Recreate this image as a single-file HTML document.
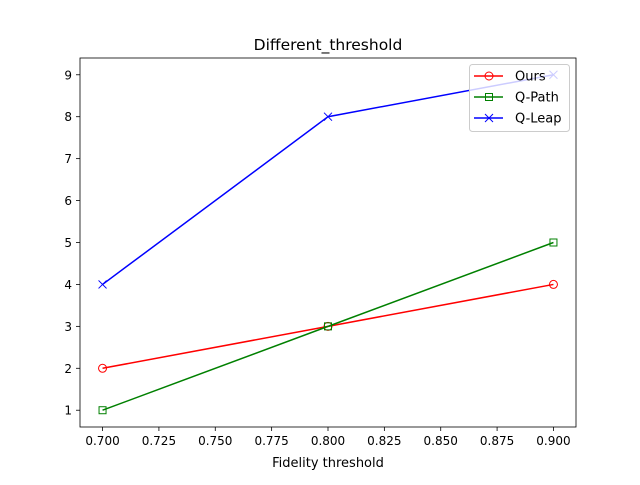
<!DOCTYPE html>
<html><head><meta charset="utf-8"><style>body{margin:0;background:#fff}svg{font-family:"DejaVu Sans","Liberation Sans",sans-serif}</style></head>
<body>
<svg id="chart" width="640" height="480" xmlns="http://www.w3.org/2000/svg"></svg>
<script>
const xValues = [0.7, 0.8, 0.9];
const oursValues = [2, 3, 4];
const qpathValues = [1, 3, 5];
const qleapValues = [4, 8, 9];
const xTicks = [0.7, 0.725, 0.75, 0.775, 0.8, 0.825, 0.85, 0.875, 0.9];
const xTickLabels = ["0.700","0.725","0.750","0.775","0.800","0.825","0.850","0.875","0.900"];
const yTicks = [1,2,3,4,5,6,7,8,9];
const seriesNames = ["Ours","Q-Path","Q-Leap"];

const L=80,R=576,T=58,B=427, x0=0.69,x1=0.91,y0=0.6,y1=9.4;
const sx=v=>L+(v-x0)/(x1-x0)*(R-L);
const sy=v=>B-(v-y0)/(y1-y0)*(B-T);
const svg=document.getElementById('chart');
const NS='http://www.w3.org/2000/svg';
function mk(tag,attrs,parent){const e=document.createElementNS(NS,tag);for(const k in attrs)e.setAttribute(k,attrs[k]);(parent||svg).appendChild(e);return e;}

const title=mk('text',{x:328,y:50,'text-anchor':'middle','font-size':15.5});title.textContent='Different_threshold';



const xg=mk('g',{});


xTicks.forEach((t,i)=>{const x=sx(t);mk('line',{x1:x,x2:x,y1:B,y2:B+4,stroke:'#000','stroke-width':0.8},xg);
const tx=mk('text',{x:x,y:B+18,'text-anchor':'middle','font-size':12},xg);tx.textContent=xTickLabels[i];

});
const xt=mk('text',{x:328,y:467,'text-anchor':'middle','font-size':13});xt.textContent='Fidelity threshold';



const yg=mk('g',{});


yTicks.forEach(t=>{const y=sy(t);mk('line',{x1:L-4,x2:L,y1:y,y2:y,stroke:'#000','stroke-width':0.8},yg);
const tx=mk('text',{x:L-8,y:y+4.5,'text-anchor':'end','font-size':12},yg);tx.textContent=t;

});

const colors=['#ff0000','#008000','#0000ff'];
const data=[oursValues,qpathValues,qleapValues];
const markers=['o','s','x'];
function marker(m,x,y,c,g){
 if(m==='o')mk('circle',{cx:x,cy:y,r:4,fill:'none',stroke:c,'stroke-width':1},g);
 else if(m==='s')mk('rect',{x:x-3.5,y:y-3.5,width:7,height:7,fill:'none',stroke:c,'stroke-width':1},g);
 else{mk('line',{x1:x-4,y1:y-4,x2:x+4,y2:y+4,stroke:c,'stroke-width':1},g);mk('line',{x1:x-4,y1:y+4,x2:x+4,y2:y-4,stroke:c,'stroke-width':1},g);}
}
data.forEach((vals,si)=>{
 const g=mk('g',{});
 
 
 mk('polyline',{points:vals.map((v,i)=>sx(xValues[i])+','+sy(v)).join(' '),fill:'none',stroke:colors[si],'stroke-width':1.5},g);
 vals.forEach((v,i)=>marker(markers[si],sx(xValues[i]),sy(v),colors[si],g));
});

mk('rect',{x:L,y:T,width:R-L,height:B-T,fill:'none',stroke:'#000','stroke-width':0.8});

const lg=mk('g',{});


mk('rect',{x:469.5,y:64.5,width:100,height:67,rx:3,fill:'#fff','fill-opacity':0.8,stroke:'#ccc'},lg);
seriesNames.forEach((n,i)=>{const y=76+i*21;
 const e=mk('g',{},lg);
 
 
 mk('line',{x1:474,x2:503,y1:y,y2:y,stroke:colors[i],'stroke-width':1.5},e);
 marker(markers[i],489,y,colors[i],e);
 const t=mk('text',{x:515,y:y+4.5,'font-size':13},e);t.textContent=n;});
</script>
</body></html>
